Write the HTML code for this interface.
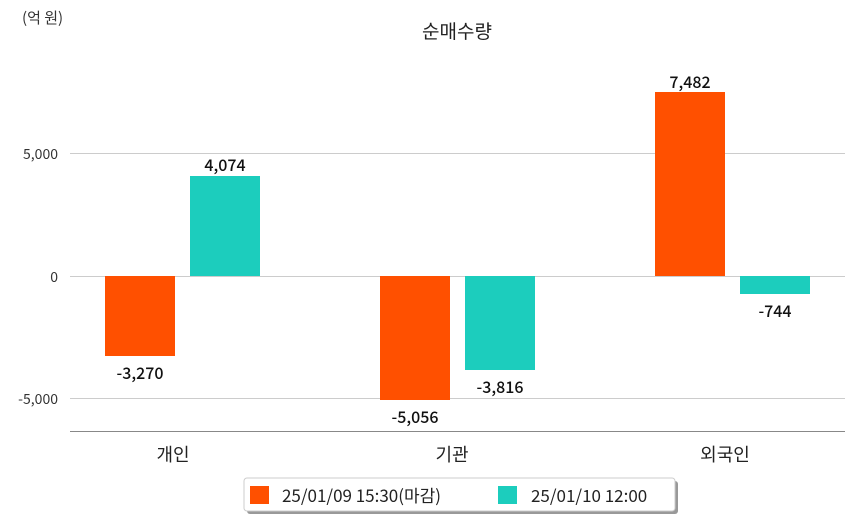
<!DOCTYPE html>
<html><head><meta charset="utf-8"><style>
body{margin:0;background:#fff}
svg text{font-family:"Noto Sans CJK KR","Liberation Sans",sans-serif}
</style></head><body>
<svg width="854" height="520" xmlns="http://www.w3.org/2000/svg">
<rect width="854" height="520" fill="#fff"/>
<text x="22" y="23" font-size="15" fill="#333">(억 원)</text>
<text x="457" y="38" font-size="19" fill="#222" text-anchor="middle">순매수량</text>
<g stroke="#cccccc" stroke-width="1">
<line x1="70" y1="153.5" x2="845" y2="153.5"/>
<line x1="70" y1="276.5" x2="845" y2="276.5"/>
<line x1="70" y1="398.5" x2="845" y2="398.5"/>
</g>
<line x1="70" y1="431.5" x2="845" y2="431.5" stroke="#888" stroke-width="1"/>
<g font-size="14" fill="#333" text-anchor="end">
<text x="58" y="159">5,000</text>
<text x="58" y="282">0</text>
<text x="58" y="404">-5,000</text>
</g>
<g fill="#ff5000">
<rect x="105" y="276" width="70" height="80"/>
<rect x="380" y="276" width="70" height="124"/>
<rect x="655" y="92" width="70" height="184"/>
</g>
<g fill="#1ccdbd">
<rect x="190" y="176" width="70" height="100"/>
<rect x="465" y="276" width="70" height="94"/>
<rect x="740" y="276" width="70" height="18"/>
</g>
<g font-size="16" fill="#111" text-anchor="middle" font-weight="500">
<text x="140" y="379">-3,270</text>
<text x="225" y="171">4,074</text>
<text x="415" y="423">-5,056</text>
<text x="500" y="393">-3,816</text>
<text x="690" y="88">7,482</text>
<text x="775" y="317">-744</text>
</g>
<g font-size="18" fill="#222" text-anchor="middle">
<text x="173" y="461">개인</text>
<text x="452" y="461">기관</text>
<text x="725" y="461">외국인</text>
</g>
<rect x="247" y="481" width="431" height="33" rx="3" fill="#999"/>
<rect x="244" y="478" width="431" height="33" rx="3" fill="#fff" stroke="#ccc"/>
<rect x="250" y="486" width="19" height="18" fill="#ff5000"/>
<text x="282" y="502" font-size="17" fill="#222">25/01/09 15:30(마감)</text>
<rect x="498" y="486" width="19" height="18" fill="#1ccdbd"/>
<text x="531" y="502" font-size="17" fill="#222">25/01/10 12:00</text>
</svg>
</body></html>
